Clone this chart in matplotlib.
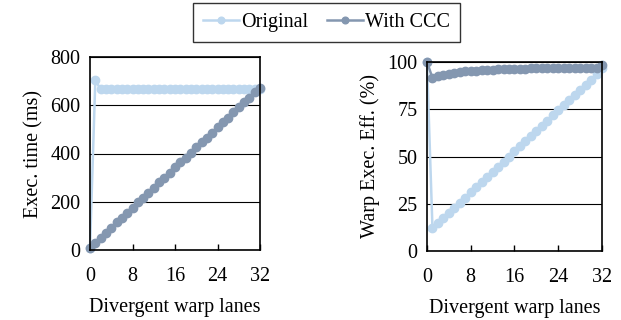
import matplotlib.pyplot as plt

plt.rcParams['font.family'] = ['Liberation Serif', 'DejaVu Serif']

lanes = list(range(33))

# exec time (ms)
time_original = [10, 703] + [667] * 31
time_ccc = [10, 30, 51, 72, 93, 114, 134, 155, 176, 197, 217, 238, 259, 280, 300,
            321, 342, 363, 383, 404, 425, 446, 466, 487, 508, 529, 549, 570, 591,
            612, 632, 653, 672]

# warp execution efficiency (%)
eff_original = [100, 12, 14.7, 17.4, 20.1, 22.8, 25.6, 28.3, 31, 33.7, 36.4, 39.1,
                41.8, 44.6, 47.3, 50, 52.7, 55.4, 58.1, 60.8, 63.6, 66.3, 69, 71.7,
                74.4, 77.1, 79.8, 82.6, 85.3, 88, 90.7, 93.4, 97]
eff_ccc = [100, 91.5, 92.4, 93.2, 93.8, 94.3, 94.7, 95, 95.3, 95.5, 95.7, 95.9,
           96, 96.1, 96.2, 96.3, 96.4, 96.5, 96.5, 96.6, 96.6, 96.7, 96.7, 96.7,
           96.8, 96.8, 96.8, 96.8, 96.9, 96.9, 96.9, 96.9, 98.5]

c_orig = '#BDD7EE'
c_ccc = '#8497B0'
fs = 14.5

fig = plt.figure(figsize=(6.21, 3.2), dpi=100)
ax1 = fig.add_axes([90/621, 1 - 250/320, 170/621, 193/320])
ax2 = fig.add_axes([427/621, 1 - 251/320, 175/621, 189/320])

def style(ax, ylim, yticks):
    ax.set_xlim(0, 32)
    ax.set_ylim(*ylim)
    ax.set_xticks([0, 8, 16, 24, 32])
    ax.set_yticks(yticks)
    ax.yaxis.grid(True, color='black', linewidth=0.8)
    ax.set_axisbelow(True)
    ax.tick_params(axis='x', direction='in', length=4, width=1, labelsize=fs, pad=12)
    ax.tick_params(axis='y', length=0, labelsize=fs, pad=7)
    for s in ax.spines.values():
        s.set_color('black')
        s.set_linewidth(1.2)
    ax.set_xlabel('Divergent warp lanes', fontsize=fs, labelpad=9)

mk = dict(marker='o', markersize=6, lw=1.8, clip_on=False)
l1, = ax1.plot(lanes, time_original, color=c_orig, label='Original', **mk)
l2, = ax1.plot(lanes, time_ccc, color=c_ccc, label='With CCC', **mk)
style(ax1, (0, 800), [0, 200, 400, 600, 800])
ax1.set_ylabel('Exec. time (ms)', fontsize=fs, labelpad=5)

ax2.plot(lanes, eff_original, color=c_orig, **mk)
ax2.plot(lanes, eff_ccc, color=c_ccc, **mk)
style(ax2, (0, 100), [0, 25, 50, 75, 100])
ax2.set_ylabel('Warp Exec. Eff. (%)', fontsize=fs, labelpad=5)

leg = fig.legend(handles=[l1, l2], loc='upper center', bbox_to_anchor=(326.5/621, 1 - 3/320),
                 ncol=2, fontsize=14.5, frameon=True, fancybox=False, handlelength=1.8,
                 handletextpad=0.1, columnspacing=0.9, borderpad=0.5, borderaxespad=0,
                 markerscale=0.8)
leg.get_frame().set_edgecolor('black')
leg.get_frame().set_linewidth(1)

fig.savefig('out.png', dpi=100)
